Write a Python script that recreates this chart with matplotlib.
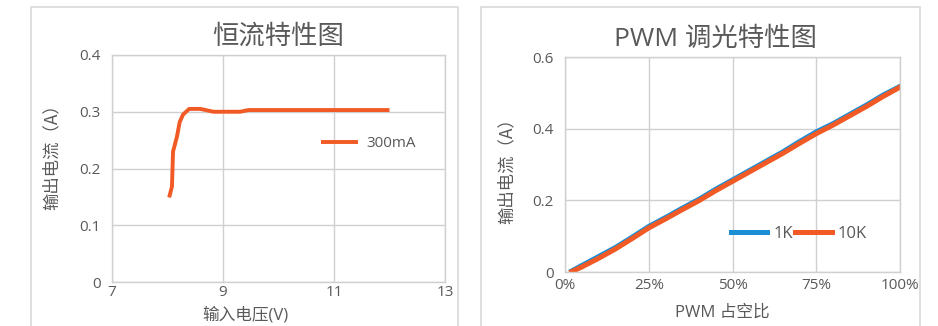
import matplotlib
matplotlib.use("Agg")
import matplotlib.pyplot as plt
from matplotlib.patches import Rectangle

plt.rcParams['font.family'] = ['Open Sans', 'Noto Sans CJK SC', 'DejaVu Sans']
CJK = ['Noto Sans CJK SC', 'DejaVu Sans']

# Constant-current characteristic
vin = [8.03, 8.08, 8.10, 8.17, 8.22, 8.28, 8.39, 8.59, 8.83, 9.31, 9.46, 10.0, 11.0, 12.0]
iout = [0.149, 0.168, 0.230, 0.256, 0.282, 0.295, 0.305, 0.305, 0.300, 0.300, 0.303, 0.303, 0.303, 0.303]

# PWM dimming characteristic
duty = [2, 5, 10, 15, 20, 25, 30, 35, 40, 45, 50, 55, 60, 65, 70, 75, 80, 85, 90, 95, 100]
i_1k = [0.003, 0.018, 0.043, 0.068, 0.097, 0.127, 0.152, 0.178, 0.203, 0.231, 0.257,
        0.283, 0.309, 0.335, 0.364, 0.391, 0.414, 0.440, 0.466, 0.494, 0.518]
i_10k = [0.001, 0.014, 0.038, 0.064, 0.093, 0.123, 0.148, 0.174, 0.199, 0.227, 0.253,
         0.279, 0.305, 0.331, 0.359, 0.386, 0.410, 0.436, 0.462, 0.490, 0.516]

left_xticks = [7, 9, 11, 13]
left_yticks = [0, 0.1, 0.2, 0.3, 0.4]
left_yticklabels = ['0', '0.1', '0.2', '0.3', '0.4']
right_xticks = [0, 25, 50, 75, 100]
right_xticklabels = ['0%', '25%', '50%', '75%', '100%']
right_yticks = [0, 0.2, 0.4, 0.6]
right_yticklabels = ['0', '0.2', '0.4', '0.6']

W, H = 938, 326
TEXT = '#595959'
GRID = '#d0d0d0'
ORANGE = '#F15A24'
BLUE = '#1B8ED6'

fig = plt.figure(figsize=(W / 100, H / 100), dpi=100)


def px_axes(x0, y0, x1, y1):
    return fig.add_axes([x0 / W, (H - y1) / H, (x1 - x0) / W, (y1 - y0) / H])


# Panel frames
for x0, x1 in [(31, 458), (481, 920)]:
    fig.add_artist(Rectangle((x0 / W, -0.1), (x1 - x0) / W, (H - 7) / H + 0.1,
                             transform=fig.transFigure, fill=False,
                             edgecolor='#d9d9d9', linewidth=1.2))


def style(ax, pad):
    ax.grid(True, color=GRID, linewidth=1.0)
    ax.set_axisbelow(True)
    for s in ax.spines.values():
        s.set_color(GRID)
        s.set_linewidth(1.0)
    ax.tick_params(axis='y', length=0, labelsize=11, colors=TEXT, pad=8)
    ax.tick_params(axis='x', length=0, labelsize=11, colors=TEXT, pad=pad)


# Left chart
ax1 = px_axes(112, 55, 445, 282)
ax1.plot(vin, iout, color=ORANGE, linewidth=2.8, solid_capstyle='butt', label='300mA')
ax1.set_xlim(7, 13)
ax1.set_ylim(0, 0.4)
ax1.set_xticks(left_xticks)
ax1.set_yticks(left_yticks)
ax1.set_yticklabels(left_yticklabels)
style(ax1, 2)
ax1.set_title('恒流特性图', fontsize=19, color=TEXT, pad=8, family=CJK)
ax1.set_xlabel('输入电压(V)', fontsize=12, color=TEXT)
ax1.xaxis.set_label_coords(0.40, -0.108)
ax1.set_ylabel('输出电流（A）', fontsize=12.5, color=TEXT, family=CJK)
ax1.yaxis.set_label_coords(-0.153, 0.57)
ax1.legend(loc='upper left', bbox_to_anchor=(0.61, 0.67), frameon=False,
           fontsize=11, labelcolor=TEXT, handlelength=2.4, handletextpad=0.55,
           borderaxespad=0)

# Right chart
ax2 = px_axes(565, 57, 900, 272)
ax2.plot(duty, i_1k, color=BLUE, linewidth=3.6, label='1K')
ax2.plot(duty, i_10k, color=ORANGE, linewidth=3.6, label='10K')
ax2.set_xlim(0, 100)
ax2.set_ylim(0, 0.6)
ax2.set_xticks(right_xticks)
ax2.set_xticklabels(right_xticklabels)
ax2.set_yticks(right_yticks)
ax2.set_yticklabels(right_yticklabels)
style(ax2, 4)
ax2.set_title('PWM 调光特性图', fontsize=19, color=TEXT, pad=8, x=0.45)
ax2.set_xlabel('PWM 占空比', fontsize=12, color=TEXT)
ax2.xaxis.set_label_coords(0.47, -0.15)
ax2.set_ylabel('输出电流（A）', fontsize=12.5, color=TEXT, family=CJK)
ax2.yaxis.set_label_coords(-0.146, 0.488)
ax2.legend(loc='upper left', bbox_to_anchor=(0.475, 0.245), frameon=False, ncol=2,
           fontsize=12, labelcolor=TEXT, handlelength=2.2, handletextpad=0.35,
           columnspacing=0.15, borderaxespad=0)

fig.savefig('out.png', dpi=100, facecolor='white')
